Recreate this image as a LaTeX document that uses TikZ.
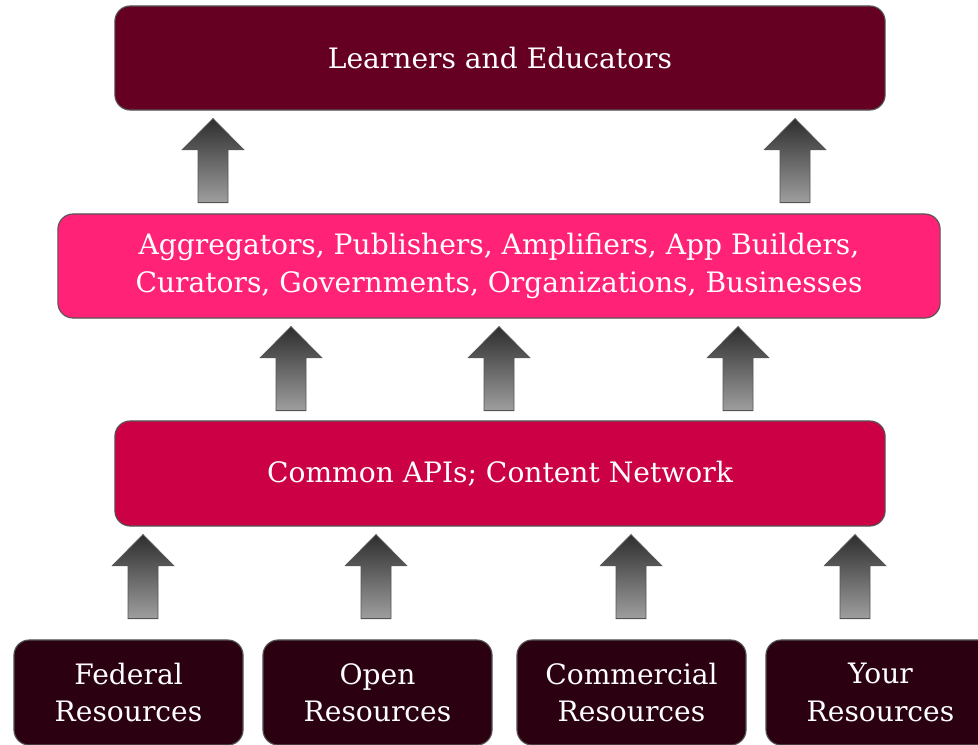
\documentclass[tikz,border=0pt]{standalone}
\usepackage{fontspec}
\setmainfont{DejaVu Serif}
\usetikzlibrary{positioning,calc}
\definecolor{learnred}{HTML}{660022}
\definecolor{partnerpink}{HTML}{FF2277}
\definecolor{apired}{HTML}{CC0044}
\definecolor{sourcedark}{HTML}{2B0010}
\definecolor{edgegray}{HTML}{555555}
\tikzset{
  layer/.style={draw=edgegray, line width=0.8pt, rounded corners=0.38cm, text=white,
    align=center, inner sep=0pt, font=\fontsize{20}{26.5}\selectfont},
  upshade/.style={draw=edgegray, line width=0.6pt, top color=black!82, bottom color=black!38}
}
% block arrow at x, going up from node #2 to node #3
\newcommand{\blockarrow}[3]{%
  \coordinate (m) at ($(#1,0 |- #3.south)+(0,8)$);
  \draw[upshade] ($(m)+(-15,84)$) -- ++(30,0) -- ++(0,-53) -- ++(15.5,0)
    -- ++(-30.5,-31) -- ++(-30.5,31) -- ++(15.5,0) -- cycle;
}

\begin{document}
\begin{tikzpicture}[x=0.025cm, y=-0.025cm]
    \useasboundingbox (0,0) rectangle (978,744);

    % layers
    \node[layer, fill=learnred, minimum width=19.25cm, minimum height=2.6cm] (learn) at (500,58) {Learners and Educators};
    \node[layer, fill=partnerpink, minimum width=22.05cm, minimum height=2.6cm] (partner) at (499,266)
        {Aggregators, Publishers, Amplifiers, App Builders,\\Curators, Governments, Organizations, Businesses};
    \node[layer, fill=apired, minimum width=19.25cm, minimum height=2.625cm] (api) at (500,473.5) {Common APIs; Content Network};

    % sources
    \node[layer, fill=sourcedark, minimum width=5.725cm, minimum height=2.625cm] (fed) at (128.5,692.5) {Federal\\Resources};
    \node[layer, fill=sourcedark, minimum width=5.725cm, minimum height=2.625cm] (open) at (377.5,692.5) {Open\\Resources};
    \node[layer, fill=sourcedark, minimum width=5.725cm, minimum height=2.625cm] (comm) at (631.5,692.5) {Commercial\\Resources};
    \node[layer, fill=sourcedark, minimum width=5.725cm, minimum height=2.625cm] (your) at (880.5,692.5) {Your\\Resources};

    % arrows
    \blockarrow{143}{fed}{api}
    \blockarrow{376}{open}{api}
    \blockarrow{631}{comm}{api}
    \blockarrow{855}{your}{api}
    \blockarrow{291}{api}{partner}
    \blockarrow{499}{api}{partner}
    \blockarrow{738}{api}{partner}
    \blockarrow{213}{partner}{learn}
    \blockarrow{795}{partner}{learn}
\end{tikzpicture}
\end{document}
